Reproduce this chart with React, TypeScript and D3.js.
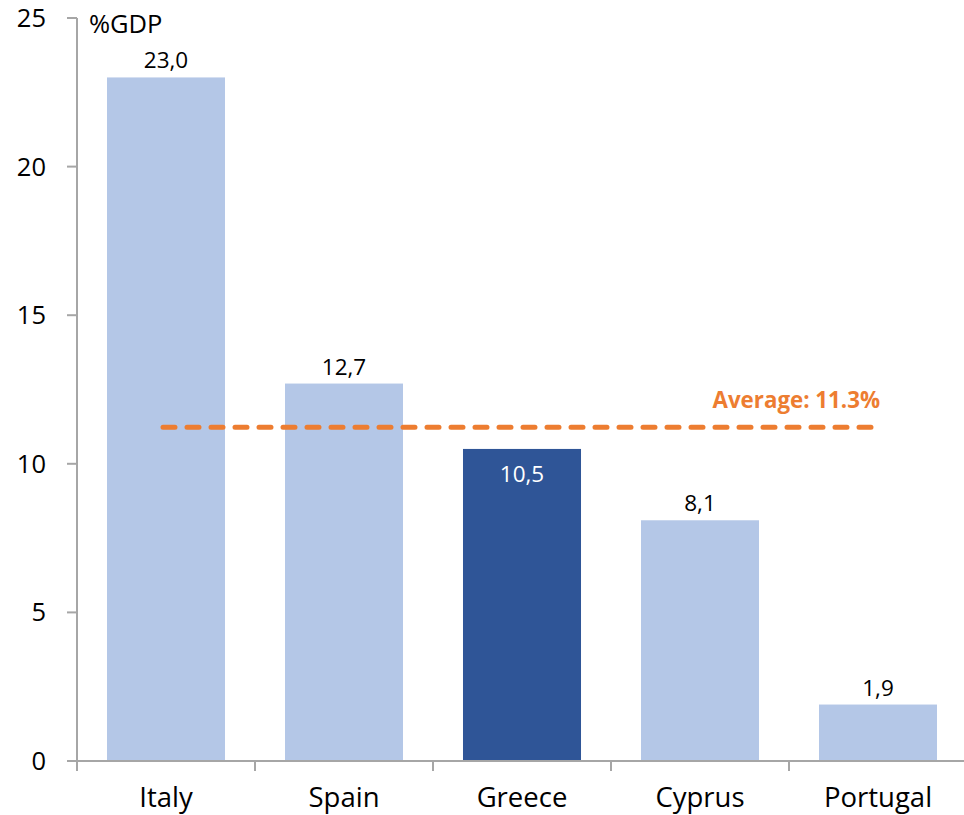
import React from "react";
import * as d3 from "d3";

const categories = ["Italy", "Spain", "Greece", "Cyprus", "Portugal"];
const values = [23.0, 12.7, 10.5, 8.1, 1.9];
const labels = ["23,0", "12,7", "10,5", "8,1", "1,9"];
const highlight = ["Greece"];
const yTicks = [0, 5, 10, 15, 20, 25];
const averageValue = 11.3;
const averageLabel = "Average: 11.3%";
const unitLabel = "%GDP";

const W = 964;
const H = 815;
const FONT = "'Open Sans', sans-serif";

export default function App() {
  const x = d3.scaleBand<string>().domain(categories).range([77, 967]).paddingInner(0.337).paddingOuter(0.1685);
  const y = d3.scaleLinear().domain([0, 25]).range([761, 18]);
  const axisColor = "#A6A6A6";
  const first = categories[0];
  const last = categories[categories.length - 1];
  const avgX1 = (x(first) as number) + x.bandwidth() / 2 - 3;
  const avgX2 = (x(last) as number) + x.bandwidth() / 2 - 2;
  return (
    <svg width={W} height={H} style={{ position: "absolute", left: 0, top: 0, fontFamily: FONT }}>
      <rect width={W} height={H} fill="#fff" />
      {categories.map((c, i) => {
        const hi = highlight.includes(c);
        const bx = x(c) as number;
        return (
          <g key={c}>
            <rect x={bx} y={y(values[i])} width={x.bandwidth()} height={y(0) - y(values[i])} fill={hi ? "#2F5597" : "#B4C7E7"} />
            <text
              x={bx + x.bandwidth() / 2}
              y={hi ? y(values[i]) + 33 : y(values[i]) - 9}
              textAnchor="middle"
              fontSize={22.5}
              fill={hi ? "#fff" : "#000"}
            >
              {labels[i]}
            </text>
            <text x={bx + x.bandwidth() / 2} y={806.5} textAnchor="middle" fontSize={27.5} fill="#000">
              {c}
            </text>
          </g>
        );
      })}
      {/* y axis */}
      <line x1={77} x2={77} y1={y(25)} y2={y(0)} stroke={axisColor} strokeWidth={2} />
      {yTicks.map((t) => (
        <g key={t}>
          <line x1={67} x2={77} y1={y(t)} y2={y(t)} stroke={axisColor} strokeWidth={2} />
          <text x={46} y={y(t) + 9} textAnchor="end" fontSize={25.5} fill="#000">
            {t}
          </text>
        </g>
      ))}
      {/* x axis */}
      <line x1={67} x2={W} y1={y(0)} y2={y(0)} stroke={axisColor} strokeWidth={2} />
      {categories.map((c) => {
        const tx = (x(c) as number) - (x.step() * x.paddingInner()) / 2;
        return <line key={"t" + c} x1={tx} x2={tx} y1={y(0)} y2={y(0) + 10} stroke={axisColor} strokeWidth={2} />;
      })}
      <text x={89} y={33} fontSize={25.5} fill="#000">
        {unitLabel}
      </text>
      {/* average */}
      <line
        x1={avgX1}
        x2={avgX2}
        y1={y(averageValue) + 2}
        y2={y(averageValue) + 2}
        stroke="#ED7D31"
        strokeWidth={5}
        strokeDasharray="12 12"
        strokeLinecap="round"
      />
      <text x={880} y={408} textAnchor="end" fontSize={22.3} fontWeight="bold" fill="#ED7D31">
        {averageLabel}
      </text>
    </svg>
  );
}
